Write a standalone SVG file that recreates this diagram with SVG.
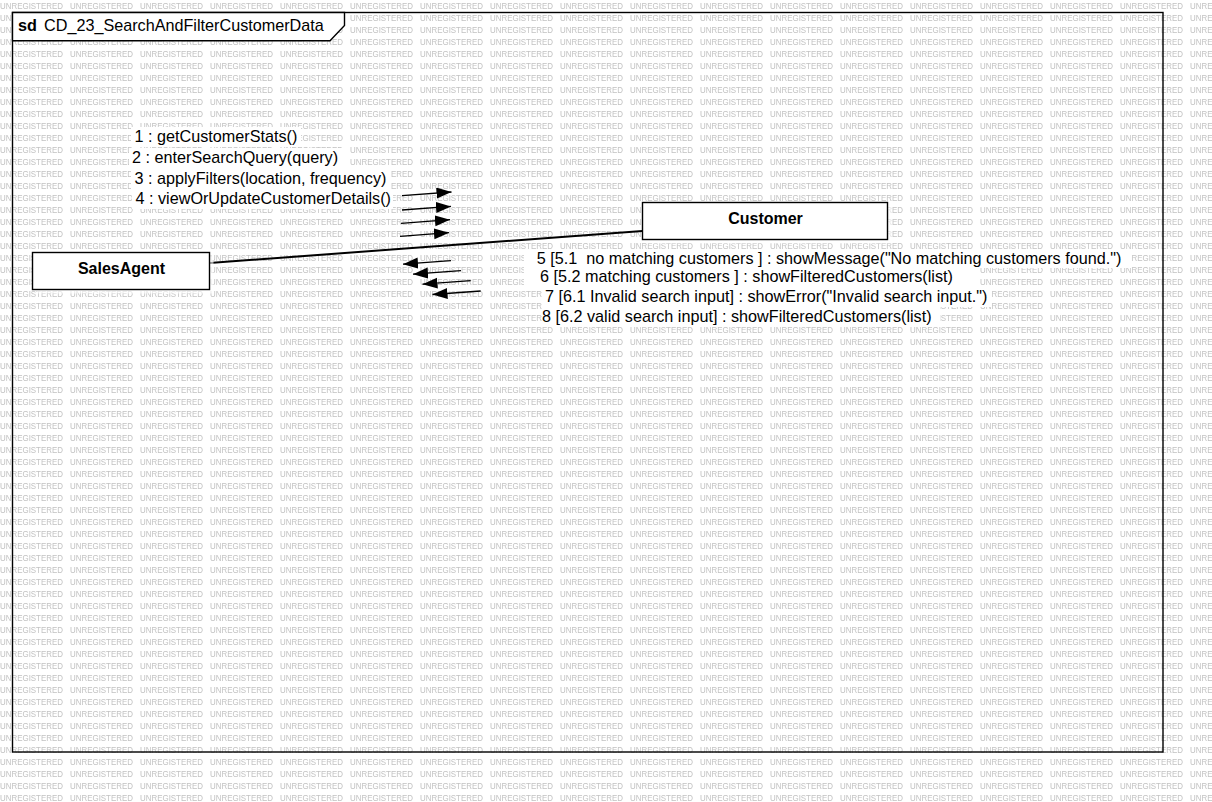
<svg xmlns="http://www.w3.org/2000/svg" width="1212" height="802" viewBox="0 0 1212 802">
  <style>
    .wm { font-family: "Liberation Sans", Arial, sans-serif; font-size: 8.5px; fill: #c2c2c2; }
    .frame { fill: none; stroke: #000; stroke-width: 1.4; }
    .tab { fill: #fff; stroke: #000; stroke-width: 1.4; }
    .title { font-family: "Liberation Sans", Arial, sans-serif; font-size: 16.2px; fill: #000; }
    .title-b { font-weight: bold; }
    .node { fill: #fff; stroke: #000; stroke-width: 1.4; }
    .shadow { fill: #fff; opacity: 0.6; }
    .nodetext { font-family: "Liberation Sans", Arial, sans-serif; font-size: 16px; font-weight: bold; fill: #000; text-anchor: middle; }
    .link { stroke: #000; stroke-width: 2; fill: none; }
    .msg { stroke: #000; stroke-width: 1.3; fill: none; marker-end: url(#arrow); }
    .lbl { font-family: "Liberation Sans", Arial, sans-serif; font-size: 16.2px; fill: #000; white-space: pre; }
    .lblbg { fill: #fff; }
  </style>
  <defs>
    <pattern id="watermark" patternUnits="userSpaceOnUse" x="0" y="0" width="70" height="12">
      <rect width="70" height="12" fill="#fff"/>
      <text class="wm" x="0" y="9.3" textLength="63" lengthAdjust="spacingAndGlyphs">UNREGISTERED</text>
    </pattern>
    <marker id="arrow" markerUnits="userSpaceOnUse" markerWidth="16" markerHeight="12" refX="15" refY="5.5" orient="auto">
      <path d="M0,0 L15,5.5 L0,11 Z" fill="#000"/>
    </marker>
  </defs>

  <rect x="0" y="0" width="1212" height="802" fill="url(#watermark)"/>

  <g id="frame">
    <rect class="frame" x="12.5" y="12.5" width="1150.5" height="739.5"/>
    <path class="tab" d="M12.5,12.5 L344.5,12.5 L344.5,25.5 L330,40.7 L12.5,40.7 Z"/>
    <text class="title" x="18" y="31"><tspan class="title-b">sd</tspan><tspan x="44">CD_23_SearchAndFilterCustomerData</tspan></text>
  </g>

  <g id="connectors">
    <line class="link" x1="209.5" y1="263" x2="642.5" y2="231"/>
    <line class="msg" x1="402" y1="195.6" x2="451.5" y2="192"/>
    <line class="msg" x1="402" y1="210" x2="451" y2="206.4"/>
    <line class="msg" x1="401" y1="223.3" x2="450" y2="219.7"/>
    <line class="msg" x1="400" y1="236.3" x2="449" y2="232.7"/>
    <line class="msg" x1="451" y1="260.7" x2="403" y2="264.2"/>
    <line class="msg" x1="461" y1="270.7" x2="413" y2="274.2"/>
    <line class="msg" x1="470.7" y1="280.7" x2="422.5" y2="284.2"/>
    <line class="msg" x1="480.7" y1="291" x2="432.5" y2="294.5"/>

    <rect class="lblbg" x="131" y="127" width="170" height="20"/>
    <rect class="lblbg" x="129" y="148" width="214" height="20"/>
    <rect class="lblbg" x="131" y="169" width="260" height="20"/>
    <rect class="lblbg" x="132" y="189" width="261" height="20"/>
    <text class="lbl" x="134.5" y="142">1 : getCustomerStats()</text>
    <text class="lbl" x="132" y="163">2 : enterSearchQuery(query)</text>
    <text class="lbl" x="134.5" y="184">3 : applyFilters(location, frequency)</text>
    <text class="lbl" x="135.5" y="204">4 : viewOrUpdateCustomerDetails()</text>

    <rect class="lblbg" x="524" y="249" width="608" height="19"/>
    <rect class="lblbg" x="524" y="268" width="452" height="19"/>
    <rect class="lblbg" x="542" y="287" width="450" height="20"/>
    <rect class="lblbg" x="542" y="307" width="398" height="20"/>
    <text class="lbl" x="536.7" y="264">5 [5.1  no matching customers ] : showMessage("No matching customers found.")</text>
    <text class="lbl" x="540" y="282">6 [5.2 matching customers ] : showFilteredCustomers(list)</text>
    <text class="lbl" x="545" y="302">7 [6.1 Invalid search input] : showError("Invalid search input.")</text>
    <text class="lbl" x="542" y="322">8 [6.2 valid search input] : showFilteredCustomers(list)</text>
  </g>

  <g id="node-SalesAgent">
    <rect class="shadow" x="36.5" y="256.5" width="177" height="37"/>
    <rect class="node" x="32.5" y="252.5" width="177" height="37"/>
    <text class="nodetext" x="121.5" y="273.5">SalesAgent</text>
  </g>

  <g id="node-Customer">
    <rect class="shadow" x="646.5" y="206.5" width="245" height="37"/>
    <rect class="node" x="642.5" y="202.5" width="245" height="37"/>
    <text class="nodetext" x="765.5" y="223.5">Customer</text>
  </g>
</svg>
